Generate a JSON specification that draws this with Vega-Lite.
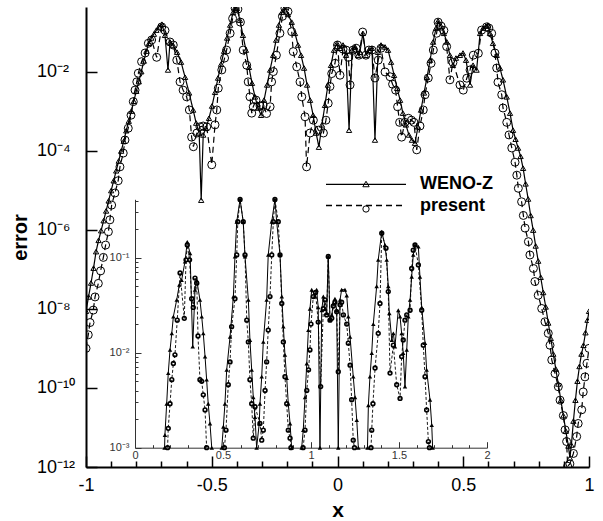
{
  "$schema": "https://vega.github.io/schema/vega-lite/v6.json",
  "width": 503,
  "height": 460,
  "autosize": {"type": "none"},
  "padding": {"left": 86, "top": 7, "right": 14, "bottom": 54},
  "background": "white",
  "config": {"view": {"stroke": null}, "font": "Liberation Sans", "axis": {"grid": false}},
  "datasets": {
    "main": [
      {"s":"WENO-Z","x":-1.0,"e":8.7e-9},{"s":"WENO-Z","x":-0.99,"e":2.0e-8},{"s":"WENO-Z","x":-0.98,"e":4.5e-8},{"s":"WENO-Z","x":-0.97,"e":1.07e-7},{"s":"WENO-Z","x":-0.96,"e":2.8e-7},{"s":"WENO-Z","x":-0.95,"e":5.4e-7},{"s":"WENO-Z","x":-0.94,"e":9.5e-7},{"s":"WENO-Z","x":-0.93,"e":1.7e-6},{"s":"WENO-Z","x":-0.92,"e":3.0e-6},{"s":"WENO-Z","x":-0.91,"e":5.4e-6},{"s":"WENO-Z","x":-0.90,"e":9.8e-6},{"s":"WENO-Z","x":-0.89,"e":1.74e-5},{"s":"WENO-Z","x":-0.88,"e":3.1e-5},{"s":"WENO-Z","x":-0.87,"e":5.5e-5},{"s":"WENO-Z","x":-0.86,"e":9.8e-5},{"s":"WENO-Z","x":-0.85,"e":1.74e-4},{"s":"WENO-Z","x":-0.84,"e":3.2e-4},{"s":"WENO-Z","x":-0.83,"e":5.6e-4},{"s":"WENO-Z","x":-0.82,"e":1.0e-3},{"s":"WENO-Z","x":-0.81,"e":1.78e-3},{"s":"WENO-Z","x":-0.80,"e":3.2e-3},{"s":"WENO-Z","x":-0.79,"e":5.6e-3},{"s":"WENO-Z","x":-0.78,"e":1.0e-2},{"s":"WENO-Z","x":-0.77,"e":1.86e-2},{"s":"WENO-Z","x":-0.76,"e":3.3e-2},{"s":"WENO-Z","x":-0.75,"e":5.2e-2},{"s":"WENO-Z","x":-0.74,"e":7.1e-2},{"s":"WENO-Z","x":-0.73,"e":8.9e-2},{"s":"WENO-Z","x":-0.72,"e":0.112},{"s":"WENO-Z","x":-0.71,"e":0.135},{"s":"WENO-Z","x":-0.698,"e":0.158},{"s":"WENO-Z","x":-0.686,"e":8.3e-2},{"s":"WENO-Z","x":-0.674,"e":1.1e-2},{"s":"WENO-Z","x":-0.666,"e":5.6e-2},{"s":"WENO-Z","x":-0.654,"e":4.7e-2},{"s":"WENO-Z","x":-0.638,"e":3.1e-2},{"s":"WENO-Z","x":-0.622,"e":1.74e-2},{"s":"WENO-Z","x":-0.606,"e":7.2e-3},{"s":"WENO-Z","x":-0.59,"e":2.9e-3},{"s":"WENO-Z","x":-0.574,"e":1.07e-3},{"s":"WENO-Z","x":-0.562,"e":5.0e-4},{"s":"WENO-Z","x":-0.55,"e":2.8e-4},{"s":"WENO-Z","x":-0.542,"e":5.6e-6},{"s":"WENO-Z","x":-0.534,"e":2.5e-4},{"s":"WENO-Z","x":-0.523,"e":3.7e-4},{"s":"WENO-Z","x":-0.511,"e":6.6e-4},{"s":"WENO-Z","x":-0.499,"e":1.35e-3},{"s":"WENO-Z","x":-0.487,"e":3.0e-3},{"s":"WENO-Z","x":-0.475,"e":6.9e-3},{"s":"WENO-Z","x":-0.463,"e":1.55e-2},{"s":"WENO-Z","x":-0.451,"e":3.3e-2},{"s":"WENO-Z","x":-0.439,"e":7.1e-2},{"s":"WENO-Z","x":-0.427,"e":0.151},{"s":"WENO-Z","x":-0.415,"e":0.316},{"s":"WENO-Z","x":-0.407,"e":0.42},{"s":"WENO-Z","x":-0.4,"e":0.4},{"s":"WENO-Z","x":-0.388,"e":0.2},{"s":"WENO-Z","x":-0.376,"e":8.3e-2},{"s":"WENO-Z","x":-0.364,"e":3.5e-2},{"s":"WENO-Z","x":-0.352,"e":1.29e-2},{"s":"WENO-Z","x":-0.34,"e":5.1e-3},{"s":"WENO-Z","x":-0.328,"e":2.3e-3},{"s":"WENO-Z","x":-0.316,"e":1.2e-3},{"s":"WENO-Z","x":-0.304,"e":7.9e-4},{"s":"WENO-Z","x":-0.292,"e":1.9e-3},{"s":"WENO-Z","x":-0.28,"e":4.6e-3},{"s":"WENO-Z","x":-0.268,"e":1.1e-2},{"s":"WENO-Z","x":-0.256,"e":2.6e-2},{"s":"WENO-Z","x":-0.244,"e":6.3e-2},{"s":"WENO-Z","x":-0.233,"e":0.151},{"s":"WENO-Z","x":-0.221,"e":0.316},{"s":"WENO-Z","x":-0.209,"e":0.42},{"s":"WENO-Z","x":-0.197,"e":0.28},{"s":"WENO-Z","x":-0.182,"e":0.178},{"s":"WENO-Z","x":-0.169,"e":9.3e-2},{"s":"WENO-Z","x":-0.157,"e":4.7e-2},{"s":"WENO-Z","x":-0.145,"e":2.6e-2},{"s":"WENO-Z","x":-0.133,"e":1.23e-2},{"s":"WENO-Z","x":-0.121,"e":4.6e-3},{"s":"WENO-Z","x":-0.109,"e":1.9e-3},{"s":"WENO-Z","x":-0.097,"e":7.9e-4},{"s":"WENO-Z","x":-0.085,"e":2.8e-4},{"s":"WENO-Z","x":-0.074,"e":1.23e-4},{"s":"WENO-Z","x":-0.062,"e":4.5e-4},{"s":"WENO-Z","x":-0.05,"e":1.41e-3},{"s":"WENO-Z","x":-0.038,"e":4.6e-3},{"s":"WENO-Z","x":-0.026,"e":1.45e-2},{"s":"WENO-Z","x":-0.014,"e":3.5e-2},{"s":"WENO-Z","x":-0.002,"e":5.2e-2},{"s":"WENO-Z","x":0.01,"e":3.9e-2},{"s":"WENO-Z","x":0.022,"e":4.7e-2},{"s":"WENO-Z","x":0.034,"e":2.6e-2},{"s":"WENO-Z","x":0.046,"e":3.3e-4},{"s":"WENO-Z","x":0.058,"e":3.5e-2},{"s":"WENO-Z","x":0.07,"e":4.2e-2},{"s":"WENO-Z","x":0.082,"e":2.6e-2},{"s":"WENO-Z","x":0.089,"e":3.1e-2},{"s":"WENO-Z","x":0.101,"e":9.3e-2},{"s":"WENO-Z","x":0.113,"e":2.6e-2},{"s":"WENO-Z","x":0.125,"e":3.5e-2},{"s":"WENO-Z","x":0.137,"e":3.9e-2},{"s":"WENO-Z","x":0.149,"e":1.86e-4},{"s":"WENO-Z","x":0.161,"e":3.1e-2},{"s":"WENO-Z","x":0.173,"e":4.7e-2},{"s":"WENO-Z","x":0.189,"e":4.2e-2},{"s":"WENO-Z","x":0.201,"e":3.5e-2},{"s":"WENO-Z","x":0.213,"e":1.74e-2},{"s":"WENO-Z","x":0.225,"e":8.1e-3},{"s":"WENO-Z","x":0.237,"e":3.8e-3},{"s":"WENO-Z","x":0.249,"e":1.9e-3},{"s":"WENO-Z","x":0.26,"e":8.9e-4},{"s":"WENO-Z","x":0.272,"e":4.5e-4},{"s":"WENO-Z","x":0.284,"e":2.5e-4},{"s":"WENO-Z","x":0.296,"e":1.86e-4},{"s":"WENO-Z","x":0.308,"e":1.55e-4},{"s":"WENO-Z","x":0.32,"e":4.0e-4},{"s":"WENO-Z","x":0.332,"e":1.07e-3},{"s":"WENO-Z","x":0.344,"e":2.9e-3},{"s":"WENO-Z","x":0.356,"e":7.2e-3},{"s":"WENO-Z","x":0.368,"e":1.95e-2},{"s":"WENO-Z","x":0.38,"e":5.6e-2},{"s":"WENO-Z","x":0.392,"e":0.126},{"s":"WENO-Z","x":0.4,"e":0.19},{"s":"WENO-Z","x":0.412,"e":0.141},{"s":"WENO-Z","x":0.423,"e":9.3e-2},{"s":"WENO-Z","x":0.435,"e":5.6e-2},{"s":"WENO-Z","x":0.447,"e":2.6e-2},{"s":"WENO-Z","x":0.459,"e":1.45e-2},{"s":"WENO-Z","x":0.471,"e":2.2e-2},{"s":"WENO-Z","x":0.487,"e":2.6e-2},{"s":"WENO-Z","x":0.499,"e":2.95e-2},{"s":"WENO-Z","x":0.511,"e":1.95e-2},{"s":"WENO-Z","x":0.527,"e":4.6e-3},{"s":"WENO-Z","x":0.539,"e":1.45e-2},{"s":"WENO-Z","x":0.553,"e":1.1e-2},{"s":"WENO-Z","x":0.567,"e":9.3e-2},{"s":"WENO-Z","x":0.579,"e":0.126},{"s":"WENO-Z","x":0.59,"e":0.141},{"s":"WENO-Z","x":0.598,"e":0.151},{"s":"WENO-Z","x":0.606,"e":9.3e-2},{"s":"WENO-Z","x":0.618,"e":5.2e-2},{"s":"WENO-Z","x":0.633,"e":2.6e-2},{"s":"WENO-Z","x":0.646,"e":1.23e-2},{"s":"WENO-Z","x":0.658,"e":6.2e-3},{"s":"WENO-Z","x":0.673,"e":2.3e-3},{"s":"WENO-Z","x":0.686,"e":8.9e-4},{"s":"WENO-Z","x":0.698,"e":3.3e-4},{"s":"WENO-Z","x":0.708,"e":1.95e-4},{"s":"WENO-Z","x":0.718,"e":1.17e-4},{"s":"WENO-Z","x":0.728,"e":7.2e-5},{"s":"WENO-Z","x":0.738,"e":3.6e-5},{"s":"WENO-Z","x":0.748,"e":1.45e-5},{"s":"WENO-Z","x":0.758,"e":6.0e-6},{"s":"WENO-Z","x":0.768,"e":2.3e-6},{"s":"WENO-Z","x":0.778,"e":9.8e-7},{"s":"WENO-Z","x":0.788,"e":3.9e-7},{"s":"WENO-Z","x":0.798,"e":1.62e-7},{"s":"WENO-Z","x":0.808,"e":6.3e-8},{"s":"WENO-Z","x":0.818,"e":2.6e-8},{"s":"WENO-Z","x":0.828,"e":1.12e-8},{"s":"WENO-Z","x":0.838,"e":4.4e-9},{"s":"WENO-Z","x":0.848,"e":1.8e-9},{"s":"WENO-Z","x":0.858,"e":7.2e-10},{"s":"WENO-Z","x":0.868,"e":3.0e-10},{"s":"WENO-Z","x":0.878,"e":1.26e-10},{"s":"WENO-Z","x":0.888,"e":4.9e-11},{"s":"WENO-Z","x":0.898,"e":2.0e-11},{"s":"WENO-Z","x":0.908,"e":8.1e-12},{"s":"WENO-Z","x":0.918,"e":3.4e-12},{"s":"WENO-Z","x":0.924,"e":1.7e-12},{"s":"WENO-Z","x":0.93,"e":3.6e-12},{"s":"WENO-Z","x":0.938,"e":1.45e-11},{"s":"WENO-Z","x":0.946,"e":4.9e-11},{"s":"WENO-Z","x":0.954,"e":1.48e-10},{"s":"WENO-Z","x":0.962,"e":3.5e-10},{"s":"WENO-Z","x":0.97,"e":7.2e-10},{"s":"WENO-Z","x":0.978,"e":1.2e-9},{"s":"WENO-Z","x":0.986,"e":2.5e-9},{"s":"WENO-Z","x":0.994,"e":5.2e-9},{"s":"WENO-Z","x":1.0,"e":8.7e-9},
      {"s":"present","x":-1.0,"e":1.0e-9},{"s":"present","x":-0.991,"e":2.2e-9},{"s":"present","x":-0.984,"e":4.5e-9},{"s":"present","x":-0.971,"e":9.3e-9},{"s":"present","x":-0.964,"e":2.0e-8},{"s":"present","x":-0.951,"e":4.4e-8},{"s":"present","x":-0.942,"e":9.1e-8},{"s":"present","x":-0.931,"e":2.0e-7},{"s":"present","x":-0.922,"e":4.1e-7},{"s":"present","x":-0.911,"e":8.9e-7},{"s":"present","x":-0.905,"e":1.78e-6},{"s":"present","x":-0.898,"e":4.2e-6},{"s":"present","x":-0.885,"e":8.5e-6},{"s":"present","x":-0.872,"e":1.74e-5},{"s":"present","x":-0.865,"e":3.9e-5},{"s":"present","x":-0.852,"e":8.7e-5},{"s":"present","x":-0.845,"e":1.86e-4},{"s":"present","x":-0.832,"e":3.7e-4},{"s":"present","x":-0.821,"e":7.9e-4},{"s":"present","x":-0.812,"e":1.74e-3},{"s":"present","x":-0.805,"e":3.4e-3},{"s":"present","x":-0.798,"e":5.5e-3},{"s":"present","x":-0.792,"e":9.1e-3},{"s":"present","x":-0.779,"e":1.78e-2},{"s":"present","x":-0.765,"e":2.95e-2},{"s":"present","x":-0.752,"e":5.2e-2},{"s":"present","x":-0.739,"e":6.3e-2},{"s":"present","x":-0.719,"e":2.3e-2},{"s":"present","x":-0.699,"e":0.135},{"s":"present","x":-0.686,"e":0.11},{"s":"present","x":-0.666,"e":5.6e-2},{"s":"present","x":-0.653,"e":4.7e-2},{"s":"present","x":-0.639,"e":1.95e-2},{"s":"present","x":-0.626,"e":5.5e-3},{"s":"present","x":-0.614,"e":3.4e-3},{"s":"present","x":-0.6,"e":2.3e-3},{"s":"present","x":-0.589,"e":1.07e-3},{"s":"present","x":-0.58,"e":2.2e-4},{"s":"present","x":-0.573,"e":1.26e-4},{"s":"present","x":-0.559,"e":2.8e-4},{"s":"present","x":-0.547,"e":4.0e-4},{"s":"present","x":-0.534,"e":4.2e-4},{"s":"present","x":-0.52,"e":4.0e-4},{"s":"present","x":-0.5,"e":4.4e-5},{"s":"present","x":-0.487,"e":4.5e-4},{"s":"present","x":-0.48,"e":1.07e-3},{"s":"present","x":-0.474,"e":3.8e-3},{"s":"present","x":-0.46,"e":1.1e-2},{"s":"present","x":-0.449,"e":2.2e-2},{"s":"present","x":-0.441,"e":3.5e-2},{"s":"present","x":-0.427,"e":9.3e-2},{"s":"present","x":-0.417,"e":0.22},{"s":"present","x":-0.407,"e":0.4},{"s":"present","x":-0.396,"e":0.38},{"s":"present","x":-0.386,"e":0.178},{"s":"present","x":-0.375,"e":3.5e-2},{"s":"present","x":-0.361,"e":1.45e-2},{"s":"present","x":-0.355,"e":5.5e-3},{"s":"present","x":-0.348,"e":2.3e-3},{"s":"present","x":-0.341,"e":8.9e-4},{"s":"present","x":-0.335,"e":1.29e-3},{"s":"present","x":-0.324,"e":1.9e-3},{"s":"present","x":-0.308,"e":1.35e-3},{"s":"present","x":-0.296,"e":1.41e-3},{"s":"present","x":-0.282,"e":8.7e-4},{"s":"present","x":-0.268,"e":1.29e-3},{"s":"present","x":-0.262,"e":5.5e-3},{"s":"present","x":-0.255,"e":1.0e-2},{"s":"present","x":-0.243,"e":2.6e-2},{"s":"present","x":-0.229,"e":9.3e-2},{"s":"present","x":-0.219,"e":0.25},{"s":"present","x":-0.209,"e":0.4},{"s":"present","x":-0.197,"e":0.33},{"s":"present","x":-0.182,"e":0.102},{"s":"present","x":-0.176,"e":3.2e-2},{"s":"present","x":-0.162,"e":1.32e-2},{"s":"present","x":-0.149,"e":5.5e-3},{"s":"present","x":-0.142,"e":2.3e-3},{"s":"present","x":-0.129,"e":7.2e-4},{"s":"present","x":-0.123,"e":3.9e-5},{"s":"present","x":-0.109,"e":2.8e-4},{"s":"present","x":-0.096,"e":5.9e-4},{"s":"present","x":-0.076,"e":3.3e-4},{"s":"present","x":-0.056,"e":2.8e-4},{"s":"present","x":-0.046,"e":5.9e-4},{"s":"present","x":-0.037,"e":1.58e-3},{"s":"present","x":-0.03,"e":4.2e-3},{"s":"present","x":-0.023,"e":8.9e-3},{"s":"present","x":-0.01,"e":1.62e-2},{"s":"present","x":0.0,"e":4.7e-2},{"s":"present","x":0.01,"e":8.1e-3},{"s":"present","x":0.022,"e":3.7e-2},{"s":"present","x":0.034,"e":3.5e-2},{"s":"present","x":0.043,"e":2.3e-2},{"s":"present","x":0.05,"e":4.6e-3},{"s":"present","x":0.062,"e":3.5e-2},{"s":"present","x":0.074,"e":3.9e-2},{"s":"present","x":0.085,"e":2.6e-2},{"s":"present","x":0.1,"e":0.1},{"s":"present","x":0.113,"e":2.6e-2},{"s":"present","x":0.125,"e":3.5e-2},{"s":"present","x":0.137,"e":3.5e-2},{"s":"present","x":0.149,"e":6.9e-3},{"s":"present","x":0.162,"e":1.95e-2},{"s":"present","x":0.173,"e":3.9e-2},{"s":"present","x":0.189,"e":9.8e-3},{"s":"present","x":0.209,"e":7.4e-3},{"s":"present","x":0.219,"e":4.8e-3},{"s":"present","x":0.231,"e":3.4e-3},{"s":"present","x":0.239,"e":1.29e-3},{"s":"present","x":0.247,"e":5.2e-4},{"s":"present","x":0.255,"e":2.2e-4},{"s":"present","x":0.268,"e":5.2e-4},{"s":"present","x":0.282,"e":6.6e-4},{"s":"present","x":0.294,"e":5.9e-4},{"s":"present","x":0.304,"e":5.2e-4},{"s":"present","x":0.315,"e":1.05e-4},{"s":"present","x":0.328,"e":4.2e-4},{"s":"present","x":0.341,"e":1.07e-3},{"s":"present","x":0.348,"e":2.6e-3},{"s":"present","x":0.361,"e":6.9e-3},{"s":"present","x":0.372,"e":1.62e-2},{"s":"present","x":0.381,"e":3.5e-2},{"s":"present","x":0.394,"e":9.3e-2},{"s":"present","x":0.4,"e":0.178},{"s":"present","x":0.412,"e":0.141},{"s":"present","x":0.423,"e":0.11},{"s":"present","x":0.434,"e":4.3e-2},{"s":"present","x":0.447,"e":6.2e-3},{"s":"present","x":0.459,"e":1.7e-2},{"s":"present","x":0.487,"e":4.6e-3},{"s":"present","x":0.5,"e":3.4e-3},{"s":"present","x":0.514,"e":6.8e-3},{"s":"present","x":0.527,"e":1.1e-2},{"s":"present","x":0.54,"e":2.6e-2},{"s":"present","x":0.56,"e":2.9e-2},{"s":"present","x":0.573,"e":0.112},{"s":"present","x":0.593,"e":0.135},{"s":"present","x":0.602,"e":0.126},{"s":"present","x":0.613,"e":9.3e-2},{"s":"present","x":0.626,"e":2.95e-2},{"s":"present","x":0.633,"e":1.23e-2},{"s":"present","x":0.638,"e":5.4e-3},{"s":"present","x":0.653,"e":2.6e-3},{"s":"present","x":0.658,"e":1.2e-3},{"s":"present","x":0.673,"e":5.2e-4},{"s":"present","x":0.682,"e":2.5e-4},{"s":"present","x":0.693,"e":1.17e-4},{"s":"present","x":0.706,"e":5.1e-5},{"s":"present","x":0.713,"e":2.4e-5},{"s":"present","x":0.719,"e":1.12e-5},{"s":"present","x":0.732,"e":5.1e-6},{"s":"present","x":0.739,"e":2.3e-6},{"s":"present","x":0.746,"e":1.1e-6},{"s":"present","x":0.759,"e":5.0e-7},{"s":"present","x":0.765,"e":2.3e-7},{"s":"present","x":0.779,"e":1.05e-7},{"s":"present","x":0.785,"e":4.9e-8},{"s":"present","x":0.798,"e":2.2e-8},{"s":"present","x":0.812,"e":1.02e-8},{"s":"present","x":0.825,"e":4.7e-9},{"s":"present","x":0.838,"e":2.4e-9},{"s":"present","x":0.845,"e":1.2e-9},{"s":"present","x":0.852,"e":5.1e-10},{"s":"present","x":0.865,"e":2.3e-10},{"s":"present","x":0.878,"e":1.07e-10},{"s":"present","x":0.885,"e":4.9e-11},{"s":"present","x":0.898,"e":2.0e-11},{"s":"present","x":0.905,"e":8.7e-12},{"s":"present","x":0.911,"e":4.4e-12},{"s":"present","x":0.915,"e":1.05e-12},{"s":"present","x":0.924,"e":1.2e-12},{"s":"present","x":0.938,"e":2.2e-12},{"s":"present","x":0.951,"e":5.9e-12},{"s":"present","x":0.957,"e":1.26e-11},{"s":"present","x":0.971,"e":2.8e-11},{"s":"present","x":0.977,"e":7.9e-11},{"s":"present","x":0.984,"e":1.9e-10},{"s":"present","x":0.992,"e":4.2e-10},{"s":"present","x":1.0,"e":1.0e-9}
    ],
    "inset": [
      {"s":"WENO-Z","x":0.168,"e":0.001},{"s":"WENO-Z","x":0.17,"e":1.36e-3},{"s":"WENO-Z","x":0.18,"e":2.9e-3},{"s":"WENO-Z","x":0.189,"e":6.1e-3},{"s":"WENO-Z","x":0.199,"e":1.07e-2},{"s":"WENO-Z","x":0.209,"e":1.6e-2},{"s":"WENO-Z","x":0.218,"e":2.4e-2},{"s":"WENO-Z","x":0.237,"e":3.6e-2},{"s":"WENO-Z","x":0.252,"e":5.2e-2},{"s":"WENO-Z","x":0.265,"e":5.8e-2},{"s":"WENO-Z","x":0.284,"e":9.1e-2},{"s":"WENO-Z","x":0.297,"e":0.147},{"s":"WENO-Z","x":0.313,"e":0.111},{"s":"WENO-Z","x":0.328,"e":1.16e-2},{"s":"WENO-Z","x":0.341,"e":4.6e-2},{"s":"WENO-Z","x":0.351,"e":5.8e-2},{"s":"WENO-Z","x":0.369,"e":3.6e-2},{"s":"WENO-Z","x":0.379,"e":2.4e-2},{"s":"WENO-Z","x":0.388,"e":1.6e-2},{"s":"WENO-Z","x":0.398,"e":9.1e-3},{"s":"WENO-Z","x":0.407,"e":5.2e-3},{"s":"WENO-Z","x":0.416,"e":2.9e-3},{"s":"WENO-Z","x":0.426,"e":1.8e-3},{"s":"WENO-Z","x":0.436,"e":0.001},{"s":"WENO-Z","x":0.46,"e":null},
      {"s":"WENO-Z","x":0.493,"e":0.001},{"s":"WENO-Z","x":0.502,"e":1.66e-3},{"s":"WENO-Z","x":0.511,"e":2.9e-3},{"s":"WENO-Z","x":0.521,"e":6.6e-3},{"s":"WENO-Z","x":0.54,"e":1.47e-2},{"s":"WENO-Z","x":0.559,"e":3.9e-2},{"s":"WENO-Z","x":0.568,"e":0.103},{"s":"WENO-Z","x":0.578,"e":0.239},{"s":"WENO-Z","x":0.597,"e":0.41},{"s":"WENO-Z","x":0.615,"e":0.239},{"s":"WENO-Z","x":0.625,"e":0.103},{"s":"WENO-Z","x":0.644,"e":3.6e-2},{"s":"WENO-Z","x":0.653,"e":1.36e-2},{"s":"WENO-Z","x":0.663,"e":6.6e-3},{"s":"WENO-Z","x":0.672,"e":3.4e-3},{"s":"WENO-Z","x":0.682,"e":2.1e-3},{"s":"WENO-Z","x":0.691,"e":0.001},{"s":"WENO-Z","x":0.706,"e":1.8e-3},{"s":"WENO-Z","x":0.71,"e":2.9e-3},{"s":"WENO-Z","x":0.72,"e":5.6e-3},{"s":"WENO-Z","x":0.729,"e":1.3e-2},{"s":"WENO-Z","x":0.748,"e":3.6e-2},{"s":"WENO-Z","x":0.757,"e":0.107},{"s":"WENO-Z","x":0.777,"e":0.239},{"s":"WENO-Z","x":0.795,"e":0.41},{"s":"WENO-Z","x":0.805,"e":0.239},{"s":"WENO-Z","x":0.824,"e":0.107},{"s":"WENO-Z","x":0.834,"e":3.9e-2},{"s":"WENO-Z","x":0.843,"e":1.88e-2},{"s":"WENO-Z","x":0.852,"e":9.5e-3},{"s":"WENO-Z","x":0.862,"e":5.4e-3},{"s":"WENO-Z","x":0.871,"e":2.9e-3},{"s":"WENO-Z","x":0.881,"e":1.8e-3},{"s":"WENO-Z","x":0.89,"e":0.001},{"s":"WENO-Z","x":0.92,"e":null},
      {"s":"WENO-Z","x":0.947,"e":0.001},{"s":"WENO-Z","x":0.956,"e":1.53e-3},{"s":"WENO-Z","x":0.966,"e":3.4e-3},{"s":"WENO-Z","x":0.976,"e":7.7e-3},{"s":"WENO-Z","x":0.985,"e":1.73e-2},{"s":"WENO-Z","x":0.994,"e":2.9e-2},{"s":"WENO-Z","x":1.004,"e":4.6e-2},{"s":"WENO-Z","x":1.023,"e":3.9e-2},{"s":"WENO-Z","x":1.032,"e":4.6e-2},{"s":"WENO-Z","x":1.041,"e":3.0e-2},{"s":"WENO-Z","x":1.051,"e":0.001},{"s":"WENO-Z","x":1.061,"e":2.8e-2},{"s":"WENO-Z","x":1.07,"e":3.9e-2},{"s":"WENO-Z","x":1.08,"e":2.9e-2},{"s":"WENO-Z","x":1.089,"e":2.6e-2},{"s":"WENO-Z","x":1.098,"e":0.103},{"s":"WENO-Z","x":1.108,"e":2.2e-2},{"s":"WENO-Z","x":1.118,"e":2.5e-2},{"s":"WENO-Z","x":1.127,"e":3.3e-2},{"s":"WENO-Z","x":1.136,"e":3.7e-2},{"s":"WENO-Z","x":1.146,"e":2.8e-2},{"s":"WENO-Z","x":1.155,"e":0.001},{"s":"WENO-Z","x":1.165,"e":3.6e-2},{"s":"WENO-Z","x":1.174,"e":4.6e-2},{"s":"WENO-Z","x":1.193,"e":4.6e-2},{"s":"WENO-Z","x":1.203,"e":4.0e-2},{"s":"WENO-Z","x":1.212,"e":2.4e-2},{"s":"WENO-Z","x":1.222,"e":1.47e-2},{"s":"WENO-Z","x":1.24,"e":5.6e-3},{"s":"WENO-Z","x":1.25,"e":3.4e-3},{"s":"WENO-Z","x":1.26,"e":1.95e-3},{"s":"WENO-Z","x":1.269,"e":0.001},{"s":"WENO-Z","x":1.29,"e":null},
      {"s":"WENO-Z","x":1.321,"e":0.001},{"s":"WENO-Z","x":1.326,"e":2.8e-3},{"s":"WENO-Z","x":1.335,"e":5.6e-3},{"s":"WENO-Z","x":1.345,"e":9.9e-3},{"s":"WENO-Z","x":1.354,"e":2.0e-2},{"s":"WENO-Z","x":1.373,"e":5.0e-2},{"s":"WENO-Z","x":1.382,"e":9.5e-2},{"s":"WENO-Z","x":1.402,"e":0.188},{"s":"WENO-Z","x":1.42,"e":0.136},{"s":"WENO-Z","x":1.43,"e":9.5e-2},{"s":"WENO-Z","x":1.439,"e":5.0e-2},{"s":"WENO-Z","x":1.445,"e":2.6e-2},{"s":"WENO-Z","x":1.459,"e":1.36e-2},{"s":"WENO-Z","x":1.468,"e":1.6e-2},{"s":"WENO-Z","x":1.477,"e":1.16e-2},{"s":"WENO-Z","x":1.496,"e":2.8e-2},{"s":"WENO-Z","x":1.506,"e":2.4e-2},{"s":"WENO-Z","x":1.515,"e":1.6e-2},{"s":"WENO-Z","x":1.524,"e":9.9e-3},{"s":"WENO-Z","x":1.534,"e":4.4e-3},{"s":"WENO-Z","x":1.544,"e":1.07e-2},{"s":"WENO-Z","x":1.553,"e":2.4e-2},{"s":"WENO-Z","x":1.563,"e":3.6e-2},{"s":"WENO-Z","x":1.572,"e":6.3e-2},{"s":"WENO-Z","x":1.581,"e":0.107},{"s":"WENO-Z","x":1.591,"e":0.136},{"s":"WENO-Z","x":1.61,"e":0.131},{"s":"WENO-Z","x":1.619,"e":6.3e-2},{"s":"WENO-Z","x":1.629,"e":3.0e-2},{"s":"WENO-Z","x":1.648,"e":1.26e-2},{"s":"WENO-Z","x":1.657,"e":6.6e-3},{"s":"WENO-Z","x":1.676,"e":3.2e-3},{"s":"WENO-Z","x":1.686,"e":1.73e-3},{"s":"WENO-Z","x":1.691,"e":0.001},
      {"s":"present","x":0.185,"e":0.001},{"s":"present","x":0.189,"e":1.6e-3},{"s":"present","x":0.199,"e":2.9e-3},{"s":"present","x":0.209,"e":5.2e-3},{"s":"present","x":0.218,"e":7.7e-3},{"s":"present","x":0.227,"e":9.5e-3},{"s":"present","x":0.24,"e":2.2e-2},{"s":"present","x":0.256,"e":6.9e-2},{"s":"present","x":0.28,"e":2.3e-2},{"s":"present","x":0.29,"e":9.5e-2},{"s":"present","x":0.297,"e":0.136},{"s":"present","x":0.31,"e":9.5e-2},{"s":"present","x":0.322,"e":3.7e-2},{"s":"present","x":0.331,"e":3.0e-2},{"s":"present","x":0.341,"e":6.1e-2},{"s":"present","x":0.351,"e":5.4e-2},{"s":"present","x":0.358,"e":1.5e-2},{"s":"present","x":0.369,"e":5.2e-3},{"s":"present","x":0.379,"e":5.0e-3},{"s":"present","x":0.388,"e":3.6e-3},{"s":"present","x":0.398,"e":2.5e-3},{"s":"present","x":0.407,"e":0.001},{"s":"present","x":0.45,"e":null},
      {"s":"present","x":0.508,"e":0.001},{"s":"present","x":0.517,"e":1.53e-3},{"s":"present","x":0.53,"e":4.6e-3},{"s":"present","x":0.54,"e":8.0e-3},{"s":"present","x":0.549,"e":1.88e-2},{"s":"present","x":0.568,"e":3.7e-2},{"s":"present","x":0.578,"e":0.107},{"s":"present","x":0.584,"e":0.239},{"s":"present","x":0.597,"e":0.41},{"s":"present","x":0.615,"e":0.239},{"s":"present","x":0.625,"e":0.107},{"s":"present","x":0.635,"e":2.2e-2},{"s":"present","x":0.644,"e":1.3e-2},{"s":"present","x":0.653,"e":5.2e-3},{"s":"present","x":0.663,"e":2.9e-3},{"s":"present","x":0.672,"e":1.26e-3},{"s":"present","x":0.682,"e":2.7e-3},{"s":"present","x":0.71,"e":1.8e-3},{"s":"present","x":0.72,"e":1.2e-3},{"s":"present","x":0.729,"e":1.53e-3},{"s":"present","x":0.739,"e":4.0e-3},{"s":"present","x":0.748,"e":8.0e-3},{"s":"present","x":0.757,"e":1.73e-2},{"s":"present","x":0.767,"e":3.9e-2},{"s":"present","x":0.777,"e":0.107},{"s":"present","x":0.786,"e":0.239},{"s":"present","x":0.795,"e":0.41},{"s":"present","x":0.814,"e":0.239},{"s":"present","x":0.824,"e":0.107},{"s":"present","x":0.834,"e":3.3e-2},{"s":"present","x":0.843,"e":1.3e-2},{"s":"present","x":0.852,"e":5.6e-3},{"s":"present","x":0.862,"e":2.9e-3},{"s":"present","x":0.871,"e":1.53e-3},{"s":"present","x":0.881,"e":1.26e-3},{"s":"present","x":0.886,"e":0.001},{"s":"present","x":0.92,"e":null},
      {"s":"present","x":0.955,"e":0.001},{"s":"present","x":0.966,"e":1.53e-3},{"s":"present","x":0.976,"e":4.0e-3},{"s":"present","x":0.986,"e":6.6e-3},{"s":"present","x":0.994,"e":1.07e-2},{"s":"present","x":1.0,"e":2.0e-2},{"s":"present","x":1.013,"e":3.9e-2},{"s":"present","x":1.026,"e":4.3e-2},{"s":"present","x":1.041,"e":2.1e-2},{"s":"present","x":1.055,"e":4.4e-3},{"s":"present","x":1.07,"e":2.9e-2},{"s":"present","x":1.08,"e":3.6e-2},{"s":"present","x":1.089,"e":2.5e-2},{"s":"present","x":1.098,"e":0.103},{"s":"present","x":1.108,"e":2.2e-2},{"s":"present","x":1.118,"e":2.3e-2},{"s":"present","x":1.127,"e":3.1e-2},{"s":"present","x":1.136,"e":3.4e-2},{"s":"present","x":1.146,"e":2.7e-2},{"s":"present","x":1.155,"e":6.3e-3},{"s":"present","x":1.165,"e":3.2e-2},{"s":"present","x":1.174,"e":3.4e-2},{"s":"present","x":1.184,"e":2.5e-2},{"s":"present","x":1.203,"e":2.0e-2},{"s":"present","x":1.212,"e":1.26e-2},{"s":"present","x":1.222,"e":7.4e-3},{"s":"present","x":1.231,"e":3.2e-3},{"s":"present","x":1.24,"e":1.2e-3},{"s":"present","x":1.247,"e":0.001},{"s":"present","x":1.29,"e":null},
      {"s":"present","x":1.341,"e":0.001},{"s":"present","x":1.345,"e":1.53e-3},{"s":"present","x":1.352,"e":2.9e-3},{"s":"present","x":1.364,"e":6.9e-3},{"s":"present","x":1.382,"e":1.6e-2},{"s":"present","x":1.392,"e":3.3e-2},{"s":"present","x":1.402,"e":0.181},{"s":"present","x":1.426,"e":0.126},{"s":"present","x":1.439,"e":4.4e-2},{"s":"present","x":1.449,"e":6.1e-3},{"s":"present","x":1.468,"e":1.2e-2},{"s":"present","x":1.487,"e":4.6e-3},{"s":"present","x":1.506,"e":3.3e-3},{"s":"present","x":1.515,"e":9.1e-3},{"s":"present","x":1.524,"e":1.36e-2},{"s":"present","x":1.534,"e":2.2e-2},{"s":"present","x":1.544,"e":2.5e-2},{"s":"present","x":1.563,"e":2.8e-2},{"s":"present","x":1.572,"e":7.7e-2},{"s":"present","x":1.581,"e":0.12},{"s":"present","x":1.591,"e":0.136},{"s":"present","x":1.61,"e":8.4e-2},{"s":"present","x":1.629,"e":2.8e-2},{"s":"present","x":1.638,"e":1.2e-2},{"s":"present","x":1.648,"e":5.6e-3},{"s":"present","x":1.657,"e":2.5e-3},{"s":"present","x":1.667,"e":1.16e-3},{"s":"present","x":1.673,"e":0.001}
    ]
  },
  "layer": [
    {
      "data": {"name": "main"},
      "resolve": {"axis": {"x": "independent"}},
      "layer": [
        {
          "mark": {"type": "line", "color": "black", "strokeWidth": 1.2, "clip": true},
          "encoding": {
            "x": {"field": "x", "type": "quantitative",
              "scale": {"domain": [-1, 1], "nice": false, "zero": false},
              "axis": {
                "orient": "bottom",
                "values": [-1, -0.5, 0, 0.5, 1],
                "labelExpr": "toString(round(datum.value*10)/10)",
                "tickSize": -11, "tickWidth": 1.5, "tickColor": "black",
                "domainColor": "black", "domainWidth": 2,
                "labelFont": "Liberation Sans", "labelFontSize": 18, "labelColor": "black",
                "labelPadding": 20, "labelFlush": false, "labelOverlap": false, "labelBound": false,
                "title": "x", "titleFont": "Liberation Sans", "titleFontSize": 21, "titleFontWeight": "bold", "titleColor": "black",
                "titleBaseline": "alphabetic", "titleY": 49
              }
            },
            "y": {"field": "e", "type": "quantitative",
              "scale": {"type": "log", "domain": [1e-12, 0.43], "nice": false},
              "axis": {
                "orient": "left",
                "values": [1e-12, 1e-10, 1e-8, 1e-6, 1e-4, 1e-2],
                "labelExpr": "'10' + replace(replace(replace(replace(replace(replace(replace(replace(toString(round(log(datum.value)/LN10)),'-','⁻'),'1','¹'),'2','²'),'0','⁰'),'4','⁴'),'6','⁶'),'8','⁸'),'3','³')",
                "tickSize": -11, "tickWidth": 1.5, "tickColor": "black",
                "domainColor": "black", "domainWidth": 2,
                "labelFont": "Liberation Sans", "labelFontSize": 18, "labelColor": "black",
                "labelAlign": "left", "labelBaseline": "middle", "labelPadding": 60.5,
                "labelFlush": false, "labelOverlap": false, "labelBound": false,
                "title": "error", "titleFont": "Liberation Sans", "titleFontSize": 20, "titleFontWeight": "bold", "titleColor": "black", "titlePadding": 6
              }
            },
            "strokeDash": {"field": "s", "type": "nominal",
              "scale": {"domain": ["WENO-Z", "present"], "range": [[1, 0], [6, 4]]},
              "legend": {"values": ["WENO-Z"], "orient": "none", "legendX": 239, "legendY": 136.3, "title": null,
                "symbolType": "stroke", "symbolSize": 6400, "symbolStrokeWidth": 1.3, "symbolStrokeColor": "black",
                "labelFont": "Liberation Sans", "labelFontSize": 18, "labelFontWeight": "bold", "labelColor": "black",
                "labelOffset": 13, "labelLimit": 400, "padding": 0}
            },
            "opacity": {"field": "s", "type": "nominal",
              "scale": {"domain": ["present", "WENO-Z"], "range": [1, 1]},
              "legend": {"values": ["present"], "orient": "none", "legendX": 239, "legendY": 157.5, "title": null,
                "symbolType": "stroke", "symbolSize": 6400, "symbolStrokeWidth": 1.3, "symbolStrokeColor": "black", "symbolDash": [6, 4],
                "labelFont": "Liberation Sans", "labelFontSize": 18, "labelFontWeight": "bold", "labelColor": "black",
                "labelOffset": 13, "labelLimit": 400, "padding": 0}
            }
          }
        },
        {
          "transform": [{"filter": "datum.s === 'WENO-Z'"}],
          "mark": {"type": "point", "filled": false, "color": "black", "strokeWidth": 1, "size": 28, "clip": true, "opacity": 1},
          "encoding": {
            "x": {"field": "x", "type": "quantitative",
              "axis": {
                "orient": "bottom",
                "values": [-0.9,-0.8,-0.7,-0.6,-0.4,-0.3,-0.2,-0.1,0.1,0.2,0.3,0.4,0.6,0.7,0.8,0.9],
                "labels": false, "domain": false, "ticks": true,
                "tickSize": -6, "tickWidth": 1.5, "tickColor": "black", "title": null
              }
            },
            "y": {"field": "e", "type": "quantitative"},
            "shape": {"field": "s", "type": "nominal",
              "scale": {"domain": ["WENO-Z", "present", "other"], "range": ["triangle-up", "circle", "square"]},
              "legend": {"values": ["WENO-Z", "present"], "orient": "none", "legendX": 276, "legendY": 173, "title": null,
                "symbolSize": 40, "symbolStrokeWidth": 1, "symbolStrokeColor": "black", "symbolFillColor": "transparent",
                "labelExpr": "''", "labelFontSize": 1, "rowPadding": 14, "padding": 0}
            }
          }
        },
        {
          "transform": [{"filter": "datum.s === 'present'"}],
          "mark": {"type": "point", "filled": false, "color": "black", "strokeWidth": 1, "size": 64, "clip": true, "opacity": 1},
          "encoding": {
            "x": {"field": "x", "type": "quantitative", "axis": null},
            "y": {"field": "e", "type": "quantitative"},
            "shape": {"field": "s", "type": "nominal"}
          }
        }
      ]
    },
    {
      "data": {"name": "inset"},
      "resolve": {"axis": {"x": "independent", "y": "independent"}},
      "layer": [
        {
          "transform": [{"filter": "datum.s === 'WENO-Z'"}],
          "mark": {"type": "line", "color": "black", "strokeWidth": 1, "clip": true, "invalid": "break-paths-filter-domains"},
          "encoding": {
            "x": {"field": "x", "type": "quantitative",
              "scale": {"domain": [0, 2], "range": [49, 401], "nice": false, "zero": false},
              "axis": {
                "orient": "bottom", "offset": -19.3,
                "values": [0, 0.5, 1, 1.5, 2],
                "labelExpr": "toString(round(datum.value*10)/10)",
                "tickSize": -6, "tickWidth": 1, "tickColor": "#333", "domainColor": "#333", "domainWidth": 1,
                "labelFont": "Liberation Sans", "labelFontSize": 11, "labelColor": "#333",
                "labelPadding": 8, "labelFlush": false, "labelOverlap": false, "labelBound": false,
                "title": null
              }
            },
            "y": {"field": "e", "type": "quantitative",
              "scale": {"type": "log", "domain": [0.001, 0.412], "range": [440.7, 192.3], "nice": false},
              "axis": {
                "orient": "left", "offset": -49,
                "values": [0.001, 0.01, 0.1],
                "labelExpr": "'10' + replace(replace(replace(replace(toString(round(log(datum.value)/LN10)),'-','⁻'),'1','¹'),'2','²'),'3','³')",
                "tickSize": -6, "tickWidth": 1, "tickColor": "#333", "domainColor": "#333", "domainWidth": 1,
                "labelFont": "Liberation Sans", "labelFontSize": 11, "labelColor": "#333",
                "labelAlign": "right", "labelBaseline": "middle", "labelPadding": 12,
                "labelFlush": false, "labelOverlap": false, "labelBound": false,
                "title": null
              }
            }
          }
        },
        {
          "transform": [{"filter": "datum.s === 'present'"}],
          "mark": {"type": "line", "color": "black", "strokeWidth": 0.9, "strokeDash": [3, 2], "clip": true, "invalid": "break-paths-filter-domains"},
          "encoding": {
            "x": {"field": "x", "type": "quantitative",
              "axis": {
                "orient": "bottom", "offset": -19.3,
                "values": [0.1,0.2,0.3,0.4,0.6,0.7,0.8,0.9,1.1,1.2,1.3,1.4,1.6,1.7,1.8,1.9],
                "labels": false, "domain": false, "ticks": true,
                "tickSize": -3, "tickWidth": 1, "tickColor": "#333", "title": null
              }
            },
            "y": {"field": "e", "type": "quantitative",
              "axis": {
                "orient": "left", "offset": -49,
                "values": [0.002,0.003,0.004,0.005,0.006,0.007,0.008,0.009,0.02,0.03,0.04,0.05,0.06,0.07,0.08,0.09,0.2,0.3,0.4],
                "labels": false, "domain": false, "ticks": true,
                "tickSize": -3, "tickWidth": 1, "tickColor": "#333", "title": null
              }
            }
          }
        },
        {
          "transform": [{"filter": "datum.s === 'WENO-Z'"}],
          "mark": {"type": "point", "shape": "triangle-up", "filled": true, "color": "black", "size": 20, "opacity": 1, "clip": true},
          "encoding": {
            "x": {"field": "x", "type": "quantitative", "axis": null},
            "y": {"field": "e", "type": "quantitative", "axis": null}
          }
        },
        {
          "transform": [{"filter": "datum.s === 'present'"}],
          "mark": {"type": "point", "shape": "circle", "filled": false, "color": "black", "strokeWidth": 1.6, "size": 14, "opacity": 1, "clip": true},
          "encoding": {
            "x": {"field": "x", "type": "quantitative", "axis": null},
            "y": {"field": "e", "type": "quantitative", "axis": null}
          }
        }
      ]
    }
  ],
  "resolve": {"scale": {"x": "independent", "y": "independent"}}
}
